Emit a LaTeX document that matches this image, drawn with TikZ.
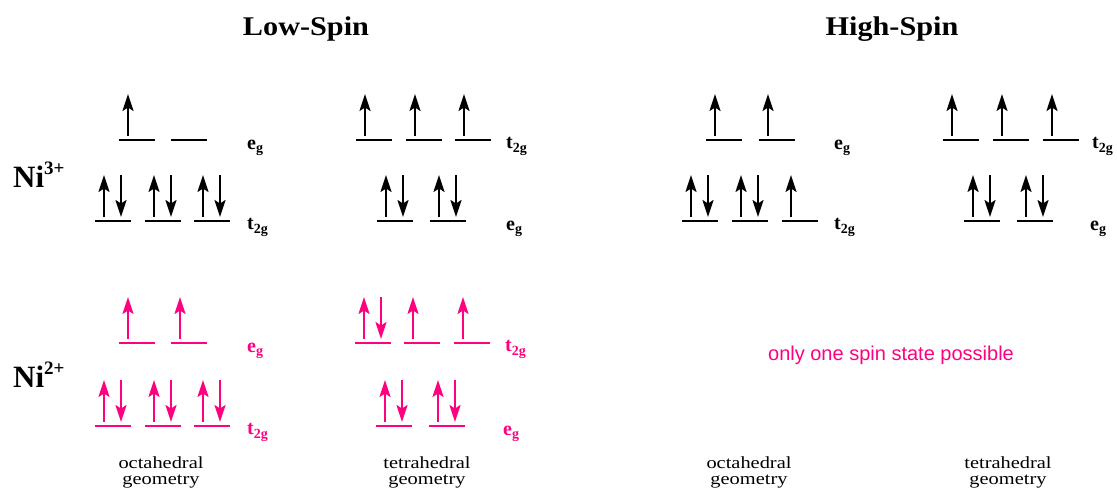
\documentclass[tikz,border=0pt]{standalone}
\usepackage{fontspec}
\usepackage{graphicx}
\setmainfont{Liberation Serif}
\newfontfamily\labelsans{Liberation Sans}
\usetikzlibrary{arrows.meta}

\definecolor{nipink}{RGB}{255,0,128}

\tikzset{
  level/.style={line width=2.3pt},
  spinarrow/.style={line width=2.1pt,-{Stealth[length=17pt,width=11pt,inset=3.5pt]}},
  title/.style={font=\fontsize{27}{27}\selectfont\bfseries, inner sep=0pt},
  ionlabel/.style={font=\fontsize{31}{31}\selectfont\bfseries, anchor=base west, inner sep=0pt},
  setlabel/.style={font=\fontsize{20}{20}\selectfont\bfseries, anchor=base west, inner sep=0pt},
  geomlabel/.style={font=\fontsize{17}{16}\selectfont, align=center, anchor=base, inner sep=0pt},
  note/.style={font=\labelsans\fontsize{20}{20}\selectfont, text=nipink}
}

% one orbital: left end x, level y, number of electrons, colour
\newcommand\orbital[4]{%
  \draw[level,#4] (#1,#2) -- ++(36,0);
  \ifnum#3>0 \draw[spinarrow,#4] (#1+9,#2-4) -- (#1+9,#2-46);\fi
  \ifnum#3>1 \draw[spinarrow,#4] (#1+26,#2-46) -- (#1+26,#2-4);\fi
}
\newcommand\eglabel{e\raisebox{-3pt}{\fontsize{14}{14}\selectfont g}}
\newcommand\tlabel{t\raisebox{-4pt}{\fontsize{14}{14}\selectfont 2g}}
\newcommand\geomtext[1]{\scalebox{1.2}[1]{#1}\\\scalebox{1.2}[1]{geometry}}

\begin{document}
\begin{tikzpicture}[x=1pt,y=-1pt]
\useasboundingbox (0,0) rectangle (1117,491);

% headings
\node[title] (ls) at (306,29) {\scalebox{1.12}[1]{Low-Spin}};
\node[title] (hs) at (892,29) {\scalebox{1.12}[1]{High-Spin}};

% ions
\node[ionlabel] (ni3) at (13,187) {Ni\raisebox{13pt}{\fontsize{19}{19}\selectfont 3+}};
\node[ionlabel] (ni2) at (13,387) {Ni\raisebox{13pt}{\fontsize{19}{19}\selectfont 2+}};

% Ni(III), low spin, octahedral
\orbital{119}{140}{1}{black}
\orbital{171}{140}{0}{black}
\orbital{95}{221}{2}{black}
\orbital{145}{221}{2}{black}
\orbital{194}{221}{2}{black}
\node[setlabel] (a1) at (247,149) {\eglabel};
\node[setlabel] (a2) at (247,229) {\tlabel};

% Ni(III), low spin, tetrahedral
\orbital{356}{140}{1}{black}
\orbital{406}{140}{1}{black}
\orbital{455}{140}{1}{black}
\orbital{377}{221}{2}{black}
\orbital{430}{221}{2}{black}
\node[setlabel] (b1) at (506,148) {\tlabel};
\node[setlabel] (b2) at (506,230) {\eglabel};

% Ni(II), octahedral
\orbital{119}{343}{1}{nipink}
\orbital{171}{343}{1}{nipink}
\orbital{95}{426}{2}{nipink}
\orbital{145}{426}{2}{nipink}
\orbital{194}{426}{2}{nipink}
\node[setlabel,text=nipink] (c1) at (247,352) {\eglabel};
\node[setlabel,text=nipink] (c2) at (247,434) {\tlabel};

% Ni(II), tetrahedral
\orbital{355}{343}{2}{nipink}
\orbital{404}{343}{1}{nipink}
\orbital{454}{343}{1}{nipink}
\orbital{376}{426}{2}{nipink}
\orbital{429}{426}{2}{nipink}
\node[setlabel,text=nipink] (d1) at (505,351) {\tlabel};
\node[setlabel,text=nipink] (d2) at (503,435) {\eglabel};

% Ni(III), high spin, octahedral
\orbital{706}{140}{1}{black}
\orbital{759}{140}{1}{black}
\orbital{682}{221}{2}{black}
\orbital{732}{221}{2}{black}
\orbital{782}{221}{1}{black}
\node[setlabel] (e1) at (834,149) {\eglabel};
\node[setlabel] (e2) at (834,229) {\tlabel};

% Ni(III), high spin, tetrahedral
\orbital{943}{140}{1}{black}
\orbital{993}{140}{1}{black}
\orbital{1043}{140}{1}{black}
\orbital{964}{221}{2}{black}
\orbital{1017}{221}{2}{black}
\node[setlabel] (f1) at (1092,148) {\tlabel};
\node[setlabel] (f2) at (1090,230) {\eglabel};

\node[note] (only) at (891,355) {only one spin state possible};

% geometry captions (anchored on the last line's baseline)
\node[geomlabel] (g1) at (161,484) {\geomtext{octahedral}};
\node[geomlabel] (g2) at (427,484) {\geomtext{tetrahedral}};
\node[geomlabel] (g3) at (749,484) {\geomtext{octahedral}};
\node[geomlabel] (g4) at (1008,484) {\geomtext{tetrahedral}};
\end{tikzpicture}
\end{document}
